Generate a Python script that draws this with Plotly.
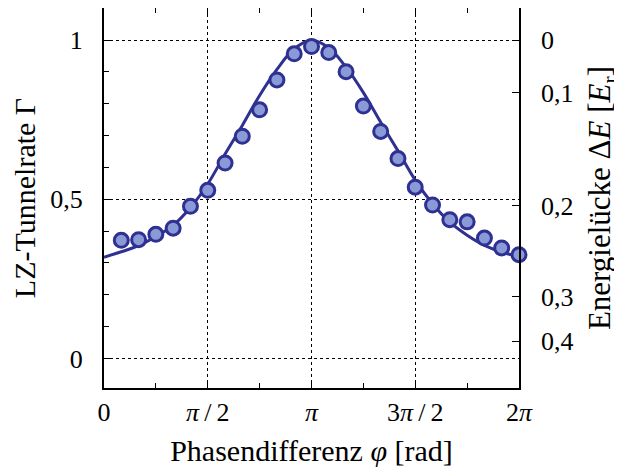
import plotly.graph_objects as go

# measured data points (phase difference in rad, LZ tunnelling rate)
phi_data = [0.262, 0.524, 0.785, 1.047, 1.309, 1.571, 1.833, 2.094, 2.356, 2.618, 2.880, 3.142,
            3.403, 3.665, 3.927, 4.189, 4.451, 4.712, 4.974, 5.236, 5.498, 5.760, 6.021, 6.283]
gamma_data = [0.371, 0.373, 0.390, 0.409, 0.478, 0.528, 0.614, 0.698, 0.781, 0.875, 0.957, 0.980,
              0.961, 0.901, 0.793, 0.713, 0.628, 0.538, 0.482, 0.436, 0.429, 0.378, 0.347, 0.326]

# theory curve
phi_curve = [0.000, 0.262, 0.524, 0.785, 1.047, 1.309, 1.571, 1.833, 2.094, 2.356, 2.618, 2.880, 3.142,
             3.403, 3.665, 3.927, 4.189, 4.451, 4.712, 4.974, 5.236, 5.498, 5.760, 6.021, 6.283]
gamma_curve = [0.318, 0.335, 0.354, 0.383, 0.418, 0.474, 0.548, 0.642, 0.732, 0.826, 0.908, 0.973, 1.000,
               0.976, 0.915, 0.835, 0.742, 0.652, 0.560, 0.486, 0.428, 0.387, 0.355, 0.334, 0.320]

# axis ticks
x_major_vals = [0, 1.5708, 3.1416, 4.7124, 6.2832]
x_major_text = ["0", "<i>π</i>\u2009/\u20092", "<i>π</i>", "3<i>π</i>\u2009/\u20092", "2<i>π</i>"]
x_minor_vals = [0.7854, 2.3562, 3.9270, 5.4978]
y_major_vals = [0, 0.5, 1]
y_major_text = ["0", "0,5", "1"]
y_minor_vals = [0.1, 0.2, 0.3, 0.4, 0.6, 0.7, 0.8, 0.9]
# energy gap ticks on the right axis, placed at the corresponding rate
dE_tick_pos = [1.0, 0.834, 0.480, 0.193, 0.054]
dE_tick_text = ["0", "0,1", "0,2", "0,3", "0,4"]

line_col = "#2e3192"
fill_col = "#8a9ad6"
font_fam = "Liberation Serif, Times New Roman, serif"

fig = go.Figure()
fig.add_trace(go.Scatter(x=phi_curve, y=gamma_curve, mode="lines", line=dict(color=line_col, width=3, shape="spline"),
                         showlegend=False, cliponaxis=False))
fig.add_trace(go.Scatter(x=phi_data, y=gamma_data, mode="markers",
                         marker=dict(size=14, color=fill_col, line=dict(color=line_col, width=3)),
                         showlegend=False, cliponaxis=False))
fig.add_trace(go.Scatter(x=[phi_data[0]], y=[gamma_data[0]], yaxis="y2", mode="markers",
                         marker=dict(opacity=0), showlegend=False, hoverinfo="skip"))

yr = [-0.093, 1.101]
fig.update_layout(
    width=614, height=468,
    margin=dict(l=96, r=103, t=0, b=88, autoexpand=False),
    paper_bgcolor="white", plot_bgcolor="white",
    font=dict(family=font_fam, size=26, color="black"),
    xaxis=dict(range=[0, 6.2832], tickvals=x_major_vals, ticktext=x_major_text,
               ticks="inside", ticklen=7, tickwidth=1, tickcolor="black",
               minor=dict(tickvals=x_minor_vals, ticks="inside", ticklen=5, tickcolor="black", showgrid=False),
               showline=True, linecolor="black", linewidth=2, mirror="ticks",
               showgrid=True, gridcolor="black", griddash="dot", gridwidth=1,
               zeroline=False, ticklabelstandoff=0,
               title=dict(text="Phasendifferenz <i>φ</i> [rad]", standoff=14, font=dict(size=30))),
    yaxis=dict(range=yr, tickvals=y_major_vals, ticktext=y_major_text,
               ticks="inside", ticklen=7, tickwidth=1, tickcolor="black",
               minor=dict(tickvals=y_minor_vals, ticks="inside", ticklen=5, tickcolor="black", showgrid=False),
               showline=True, linecolor="black", linewidth=2, mirror=True,
               showgrid=True, gridcolor="black", griddash="dot", gridwidth=1,
               zeroline=False, ticklabelstandoff=14,
               title=dict(text="LZ-Tunnelrate Γ", standoff=7, font=dict(size=30))),
    yaxis2=dict(range=yr, overlaying="y", side="right", tickvals=dE_tick_pos, ticktext=dE_tick_text,
                ticks="inside", ticklen=7, tickwidth=1, tickcolor="black",
                showline=False, showgrid=False, zeroline=False, ticklabelstandoff=21,
                title=dict(text="Energielücke Δ<i>E</i> [<i>E</i><sub>r</sub>]", standoff=22, font=dict(size=31))),
)

fig.write_html("out.html")
